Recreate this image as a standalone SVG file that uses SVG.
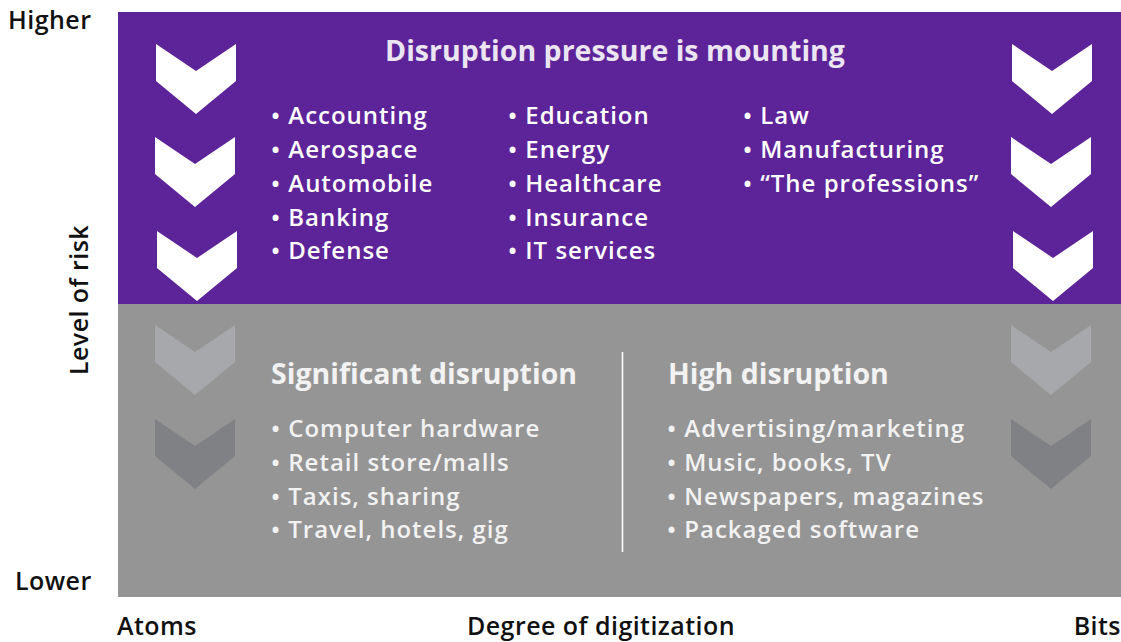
<svg xmlns="http://www.w3.org/2000/svg" width="1121" height="642" viewBox="0 0 1121 642">
<defs>
<style>
.t{font-family:"Open Sans","Noto Sans","Liberation Sans",sans-serif}
.ax{font-size:25px;font-weight:600;fill:#111;letter-spacing:0.45px}
.hd{font-size:28.5px;font-weight:700}
.li{font-size:24px;font-weight:600;letter-spacing:1px}
.w{fill:#ffffff}
.wh{fill:#ebe5f1}
.g{fill:#f2f2f2}
.cw{fill:#ffffff}
.cl{fill:#a7a8ab}
.cd{fill:#808184}
</style>
<path id="chev" d="M0 0 L40 27 L80 0 L80 37 L40 70 L0 37 Z"/>
</defs>
<rect width="1121" height="642" fill="#ffffff"/>
<g id="panel-top">
<rect x="118" y="12" width="1003" height="292" fill="#5d2399"/>
</g>
<g id="panel-bottom">
<rect x="118" y="304" width="1003" height="293" fill="#959595"/>
</g>
<g id="chevrons">
<use href="#chev" x="156" y="44" class="cw"/>
<use href="#chev" x="155" y="137" class="cw"/>
<use href="#chev" x="157" y="231" class="cw"/>
<use href="#chev" x="1012" y="44" class="cw"/>
<use href="#chev" x="1011" y="137" class="cw"/>
<use href="#chev" x="1013" y="231" class="cw"/>
<use href="#chev" x="155" y="325" class="cl"/>
<use href="#chev" x="1011" y="325" class="cl"/>
<use href="#chev" x="155" y="419" class="cd"/>
<use href="#chev" x="1011" y="419" class="cd"/>
</g>
<g id="top-text" class="t">
<text x="615" y="61" text-anchor="middle" class="hd wh">Disruption pressure is mounting</text>
<g class="li w">
<text x="271" y="124">• Accounting</text>
<text x="271" y="158">• Aerospace</text>
<text x="271" y="192">• Automobile</text>
<text x="271" y="226">• Banking</text>
<text x="271" y="259">• Defense</text>
<text x="508" y="124">• Education</text>
<text x="508" y="158">• Energy</text>
<text x="508" y="192">• Healthcare</text>
<text x="508" y="226">• Insurance</text>
<text x="508" y="259">• IT services</text>
<text x="743" y="124">• Law</text>
<text x="743" y="158">• Manufacturing</text>
<text x="743" y="192">• “The professions”</text>
</g>
</g>
<g id="significant" class="t">
<text x="271" y="384" class="hd g">Significant disruption</text>
<g class="li g">
<text x="271" y="437">• Computer hardware</text>
<text x="271" y="471">• Retail store/malls</text>
<text x="271" y="505">• Taxis, sharing</text>
<text x="271" y="538">• Travel, hotels, gig</text>
</g>
</g>
<g id="high" class="t">
<text x="668" y="384" class="hd g">High disruption</text>
<g class="li g">
<text x="667" y="437">• Advertising/marketing</text>
<text x="667" y="471">• Music, books, TV</text>
<text x="667" y="505">• Newspapers, magazines</text>
<text x="667" y="538">• Packaged software</text>
</g>
</g>
<g id="connectors">
<line x1="622.5" y1="352" x2="622.5" y2="552" stroke="#ffffff" stroke-width="1.6"/>
</g>
<g id="axes" class="t ax">
<text x="8" y="29">Higher</text>
<text x="15" y="590">Lower</text>
<text transform="translate(88,300) rotate(-90)" text-anchor="middle">Level of risk</text>
<text x="117" y="635">Atoms</text>
<text x="601" y="635" text-anchor="middle">Degree of digitization</text>
<text x="1121" y="635" text-anchor="end">Bits</text>
</g>
</svg>
